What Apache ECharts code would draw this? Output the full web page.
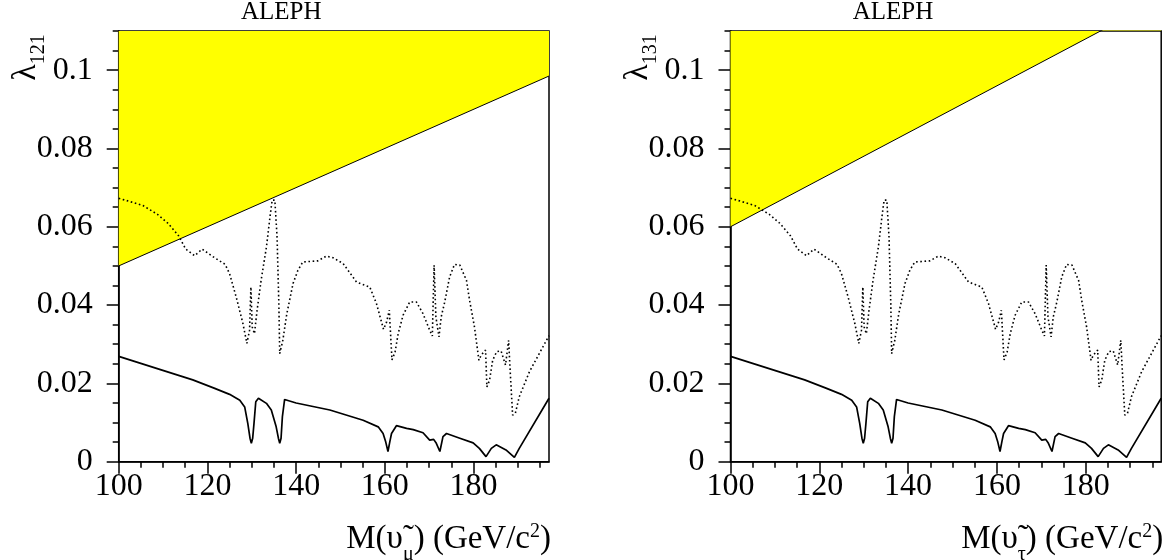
<!DOCTYPE html>
<html><head><meta charset="utf-8">
<script src="https://cdn.jsdelivr.net/npm/echarts@6/dist/echarts.min.js"></script>
<style>html,body{margin:0;padding:0;background:#fff}#c{width:1169px;height:560px}</style>
</head><body><div id="c"></div>
<script>
// ---- data ----
const solidX = [100,110.3,116.7,121.5,125,127.3,128.4,129.1,129.6,129.9,130.2,130.5,130.9,131.5,133.3,134.4,135.5,136,136.3,136.6,136.9,137.4,140,147.6,155.1,158.5,159.6,160.2,160.7,161.1,161.5,162.6,164.9,166.4,168.6,170.1,171,171.6,172.4,173.1,173.9,176.9,179.9,181.3,182.8,184,185.1,187.3,189.2,190.3,197];
const solidY = [0.0269,0.0232,0.0209,0.0188,0.0172,0.0157,0.014,0.0098,0.006,0.0047,0.006,0.0098,0.0153,0.0162,0.0149,0.0132,0.0089,0.006,0.0047,0.006,0.0115,0.0159,0.015,0.0132,0.0106,0.0089,0.0072,0.005,0.0026,0.005,0.0072,0.0092,0.0085,0.0082,0.0074,0.0055,0.0057,0.0047,0.0026,0.0064,0.0072,0.006,0.0048,0.0034,0.0013,0.0034,0.0043,0.003,0.0011,0.0034,0.0162];
const dotX = [100,105.5,108.7,111.1,113.5,115.1,117.1,118.8,121.6,124,125,126.5,128,128.9,129.5,129.8,130.1,130.6,131.2,132.1,133.3,134.2,134.6,135.2,135.7,136.1,136.3,137,137.9,139.3,140.4,141.5,144.9,146.8,148.3,150.6,153.6,156.6,158.1,159.7,160.4,161,161.6,162.3,163,164.1,165.6,167.1,168.6,170.1,170.7,171.1,171.5,172.2,172.7,173.5,174.6,175.7,176.9,178.4,179.1,180.2,181.2,181.7,182.7,183,183.6,184.3,185.2,186.2,187.2,187.9,188.2,188.8,189.4,190.3,192.6,194.8,197];
const dotY = [0.0673,0.0654,0.0632,0.0609,0.0577,0.0543,0.0526,0.0543,0.0521,0.0504,0.048,0.042,0.0353,0.0302,0.0336,0.0446,0.0344,0.0327,0.0387,0.0463,0.0548,0.0634,0.0668,0.0668,0.0574,0.0404,0.0276,0.031,0.0378,0.0455,0.0489,0.051,0.0513,0.0525,0.0521,0.0506,0.0459,0.0446,0.0404,0.0338,0.0357,0.0387,0.026,0.028,0.0327,0.0374,0.0408,0.0408,0.0378,0.0336,0.0321,0.0502,0.037,0.0319,0.037,0.0408,0.0472,0.0504,0.0502,0.0463,0.0412,0.0344,0.0259,0.0272,0.0285,0.0191,0.0208,0.0259,0.0281,0.0283,0.0247,0.031,0.0242,0.0119,0.0123,0.0166,0.023,0.0276,0.0322];
const boundX = [100, 197];
const boundA = [0.05, 0.0985];
const boundB = [0.06, 0.1182];
const xMajorTicks = [100,120,140,160,180];
const xMinorTicks = [105,110,115,125,130,135,145,150,155,165,170,175,185,190,195];
const yMajorTicks = [0,0.02,0.04,0.06,0.08,0.1];
const yMinorTicks = [0.005,0.01,0.015,0.025,0.03,0.035,0.045,0.05,0.055,0.065,0.07,0.075,0.085,0.09,0.095,0.105,0.11];
const panelTags = ['(a)','(b)'];
const yNames = ['121','131'];
const xSubs = ['μ','τ'];

const FF = "'Liberation Serif','DejaVu Serif',serif";
const zip = (a,b) => a.map((v,i)=>[v,b[i]]);
const chart = echarts.init(document.getElementById('c'), null, {renderer:'canvas'});

const grids = [
  {left:118.7, top:31, width:430.3, height:430.7},
  {left:730.5, top:31, width:430.7, height:430.7}
];
const xAxes = [], yAxes = [], series = [], graphic = [];
grids.forEach((g,gi)=>{
  g.show = true; g.borderColor = '#000'; g.borderWidth = 1.5; g.backgroundColor = 'transparent';
  xAxes.push({gridIndex:gi,type:'value',min:100,max:197,position:'bottom',
    axisLine:{show:true,onZero:false,lineStyle:{color:'#000',width:1.5}},
    axisTick:{show:true,inside:false,length:12,customValues:xMajorTicks,lineStyle:{color:'#000',width:1.5}},
    axisLabel:{show:true,customValues:xMajorTicks,fontSize:32,fontFamily:FF,color:'#000',margin:9},
    splitLine:{show:false}});
  xAxes.push({gridIndex:gi,type:'value',min:100,max:197,position:'bottom',
    axisLine:{show:false,onZero:false},
    axisTick:{show:true,inside:false,length:6,customValues:xMinorTicks,lineStyle:{color:'#000',width:1.5}},
    axisLabel:{show:false},splitLine:{show:false}});
  yAxes.push({gridIndex:gi,type:'value',min:0,max:0.11,position:'left',
    axisLine:{show:true,onZero:false,lineStyle:{color:'#000',width:1.5}},
    axisTick:{show:true,inside:false,length:12,customValues:yMajorTicks,lineStyle:{color:'#000',width:1.5}},
    axisLabel:{show:true,customValues:yMajorTicks,fontSize:32,fontFamily:FF,color:'#000',margin:26,
      formatter:v=>String(+v.toFixed(3))},
    splitLine:{show:false}});
  yAxes.push({gridIndex:gi,type:'value',min:0,max:0.11,position:'left',
    axisLine:{show:false,onZero:false},
    axisTick:{show:true,inside:false,length:6,customValues:yMinorTicks,lineStyle:{color:'#000',width:1.5}},
    axisLabel:{show:false},splitLine:{show:false}});
  const xi = gi*2, yi = gi*2;
  series.push({type:'line',xAxisIndex:xi,yAxisIndex:yi,data:zip(boundX, gi===0?boundA:boundB),
    symbol:'none',clip:true,z:1,lineStyle:{color:'#000',width:1},
    areaStyle:{color:'#ffff00',opacity:1,origin:'end'}});
  series.push({type:'line',xAxisIndex:xi,yAxisIndex:yi,data:zip(dotX,dotY),symbol:'none',clip:true,z:3,
    lineStyle:{color:'#000',width:1.6,type:[1.6,2.6]}});
  series.push({type:'line',xAxisIndex:xi,yAxisIndex:yi,data:zip(solidX,solidY),symbol:'none',clip:true,z:3,
    lineStyle:{color:'#000',width:1.7}});
  const L = g.left;
  graphic.push({type:'text',x:L+162.5,y:12.5,style:{text:'ALEPH',font:'25px '+FF,fill:'#000',textAlign:'center',textVerticalAlign:'middle'}});
  graphic.push({type:'text',x:L+21.5,y:74.5,style:{text:panelTags[gi],font:'26px '+FF,fill:'#000',textAlign:'left',textVerticalAlign:'middle'}});
  graphic.push({type:'text',x:L+74.5,y:72.9,style:{text:'Excluded by low',font:'26px '+FF,fill:'#000',textAlign:'left',textVerticalAlign:'middle'}});
  graphic.push({type:'text',x:L+74.5,y:91.2,style:{text:'energy bounds',font:'26px '+FF,fill:'#000',textAlign:'left',textVerticalAlign:'middle'}});
  graphic.push({type:'text',x:L-92.3,y:57.5,rotation:Math.PI/2,style:{
    text:'{l|λ}{s|'+yNames[gi]+'}',textAlign:'center',textVerticalAlign:'middle',fill:'#000',
    rich:{l:{fontSize:34,fontFamily:FF,lineHeight:34,verticalAlign:'top',padding:[0,0,0,0]},
          s:{fontSize:20,fontFamily:FF,lineHeight:20,verticalAlign:'top',padding:[19.75,0,0,0]}}}});
  graphic.push({type:'text',x:L+g.width+2,y:529.3,style:{
    text:'{m|M(υ̃}{s|'+xSubs[gi]+'}{m|) (GeV/c}{p|2}{m|)}',textAlign:'right',textVerticalAlign:'middle',fill:'#000',
    rich:{m:{fontSize:33,fontFamily:FF,lineHeight:33,verticalAlign:'top',padding:[10,0,0,0]},
          s:{fontSize:20,fontFamily:FF,lineHeight:20,verticalAlign:'top',padding:[31.9,0,0,0]},
          p:{fontSize:20,fontFamily:FF,lineHeight:20,verticalAlign:'top',padding:[9.4,0,0,0]}}}});
});

chart.setOption({animation:false,backgroundColor:'#fff',grid:grids,xAxis:xAxes,yAxis:yAxes,series:series,graphic:graphic});
</script></body></html>
